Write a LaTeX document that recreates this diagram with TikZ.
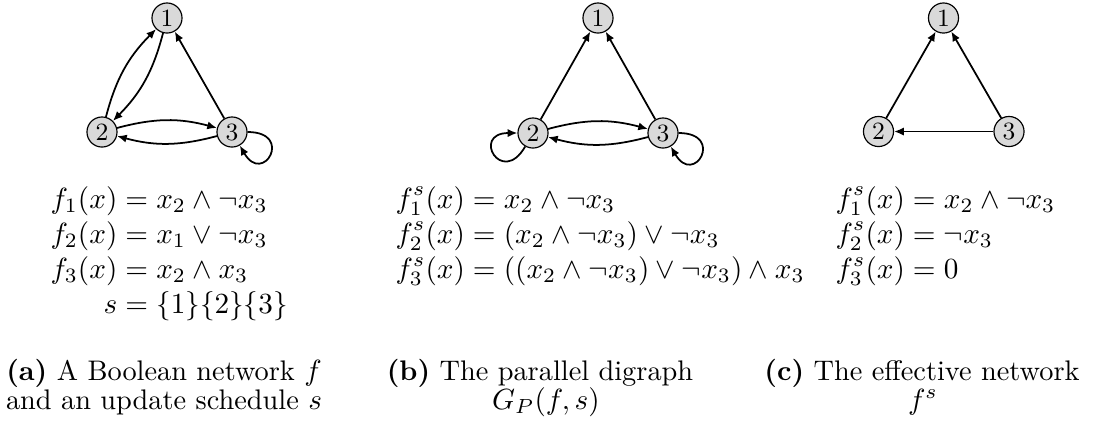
\documentclass[tikz,border=0pt]{standalone}
\usepackage{amsmath}
\usetikzlibrary{arrows.meta}
\setlength{\jot}{0pt}
\begin{document}
\begin{tikzpicture}[x=0.3425pt,y=-0.3425pt,
  vtx/.style={circle,draw,line width=0.4pt,fill=black!15,minimum size=10.3pt,inner sep=0pt,font=\fontsize{8.5}{10}\selectfont},
  arc/.style={-{Latex[length=3.3pt,width=2.8pt]},line width=0.6pt},
  selfloop/.style={arc,min distance=16pt},
  eq/.style={anchor=base west,inner sep=0pt},
  captxt/.style={anchor=base,inner sep=0pt,font=\fontsize{9.7}{11.6}\selectfont}]
\useasboundingbox (0,0) rectangle (1114,424);
% panel (a)
\node[vtx] (a1) at (167,18) {1};
\node[vtx] (a2) at (102,132) {2};
\node[vtx] (a3) at (232,132) {3};
\draw[arc] (a2) to[bend left=15] (a1);
\draw[arc] (a1) to[bend left=15] (a2);
\draw[arc] (a2) to[bend left=15] (a3);
\draw[arc] (a3) to[bend left=15] (a2);
\draw[arc] (a3) -- (a1);
\draw[selfloop] (a3) to[out=0,in=-60] (a3);
% panel (b)
\node[vtx] (b1) at (598,18) {1};
\node[vtx] (b2) at (533,133) {2};
\node[vtx] (b3) at (663,133) {3};
\draw[arc] (b2) -- (b1);
\draw[arc] (b3) -- (b1);
\draw[arc] (b2) to[bend left=15] (b3);
\draw[arc] (b3) to[bend left=15] (b2);
\draw[selfloop] (b2) to[out=-120,in=180] (b2);
\draw[selfloop] (b3) to[out=0,in=-60] (b3);
% panel (c)
\node[vtx] (c1) at (943.5,18) {1};
\node[vtx] (c2) at (878.5,131.5) {2};
\node[vtx] (c3) at (1009,131.5) {3};
\draw[arc] (c2) -- (c1);
\draw[arc] (c3) -- (c1);
\draw[arc] (c3) -- (c2);
% equations
\node[eq] (ea) at (50,208) {$\begin{aligned}[t]
  f_1(x) &= x_2 \land \neg x_3\\
  f_2(x) &= x_1 \lor \neg x_3\\
  f_3(x) &= x_2 \land x_3\\
  s &= \{1\}\{2\}\{3\}
\end{aligned}$};
\node[eq] (eb) at (395,208) {$\begin{aligned}[t]
  f^s_1(x) &= x_2 \land \neg x_3\\
  f^s_2(x) &= (x_2 \land \neg x_3) \lor \neg x_3\\
  f^s_3(x) &= ((x_2 \land \neg x_3) \lor \neg x_3) \land x_3
\end{aligned}$};
\node[eq] (ec) at (835,208) {$\begin{aligned}[t]
  f^s_1(x) &= x_2 \land \neg x_3\\
  f^s_2(x) &= \neg x_3\\
  f^s_3(x) &= 0
\end{aligned}$};
% captions
\node[captxt] (ca1) at (164,380) {\textbf{(a)} A Boolean network $f$};
\node[captxt] (ca2) at (164,409) {and an update schedule $s$};
\node[captxt] (cb1) at (540,380) {\textbf{(b)} The parallel digraph};
\node[captxt] (cb2) at (546,409) {$G_P(f,s)$};
\node[captxt] (cc1) at (922,380) {\textbf{(c)} The effective network};
\node[captxt] (cc2) at (923,409) {$f^s$};
\end{tikzpicture}
\end{document}
